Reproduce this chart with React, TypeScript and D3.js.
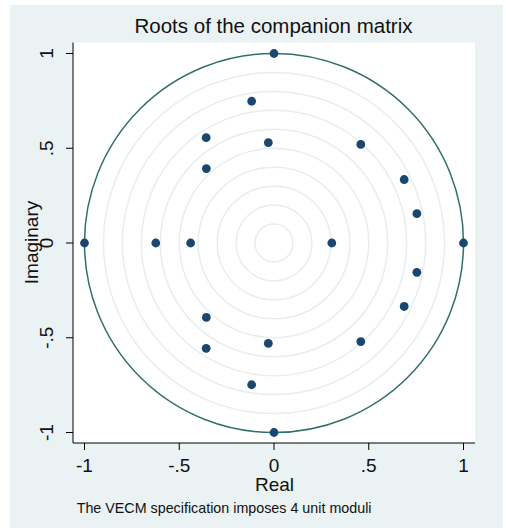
import React from "react";
import * as d3 from "d3";

const realParts = [0, 0, -1, 1, -0.118, -0.118, -0.358, -0.358, -0.357, -0.357, -0.03, -0.03, 0.458, 0.458, 0.687, 0.687, 0.754, 0.754, -0.624, -0.44, 0.305];
const imagParts = [1, -1, 0, 0, 0.748, -0.748, 0.556, -0.556, 0.393, -0.393, 0.53, -0.53, 0.52, -0.52, 0.335, -0.335, 0.155, -0.155, 0, 0, 0];
const ringRadii = [0.1, 0.2, 0.3, 0.4, 0.5, 0.6, 0.7, 0.8, 0.9];
const tickValues = [-1, -0.5, 0, 0.5, 1];
const tickLabels = ["-1", "-.5", "0", ".5", "1"];
const titleText = "Roots of the companion matrix";
const xTitle = "Real";
const yTitle = "Imaginary";
const noteText = "The VECM specification imposes 4 unit moduli";

const W = 506;
const H = 531;
const FONT = "'Liberation Sans', Arial, sans-serif";

export default function App() {
  const x = d3.scaleLinear().domain([-1, 1]).range([84.5, 463.5]);
  const y = d3.scaleLinear().domain([-1, 1]).range([432.5, 53.5]);
  const plotL = 73, plotR = 475, plotT = 42.5, plotB = 443;
  const cx = x(0), cy = y(0);
  const rPix = (r: number) => x(r) - x(0);
  const circle = (r: number) => {
    const p = d3.path();
    p.arc(cx, cy, rPix(r), 0, Math.PI * 2);
    p.closePath();
    return p.toString();
  };
  return (
    <svg width={W} height={H} style={{ position: "absolute", left: 0, top: 0, background: "#fff" }} fontFamily={FONT}>
      <rect x={10} y={5} width={493} height={523} fill="#EAF2F3" />
      <rect x={plotL} y={plotT} width={plotR - plotL} height={plotB - plotT} fill="#ffffff" />
      {ringRadii.map((r) => (
        <path key={r} d={circle(r)} fill="none" stroke="#E6EEF0" strokeWidth={1.5} />
      ))}
      <path d={circle(1)} fill="none" stroke="#32706A" strokeWidth={1.5} />
      {realParts.map((re, i) => (
        <circle key={i} cx={x(re)} cy={y(imagParts[i])} r={4.4} fill="#1A476F" />
      ))}
      <line x1={plotL} x2={plotL} y1={plotT} y2={plotB} stroke="#000" strokeWidth={1} />
      <line x1={plotL} x2={plotR} y1={plotB} y2={plotB} stroke="#000" strokeWidth={1} />
      {tickValues.map((v, i) => (
        <g key={"x" + v}>
          <line x1={x(v)} x2={x(v)} y1={plotB} y2={plotB + 7} stroke="#000" />
          <text x={x(v)} y={472} textAnchor="middle" fontSize={19} fill="#111">{tickLabels[i]}</text>
        </g>
      ))}
      {tickValues.map((v, i) => (
        <g key={"y" + v}>
          <line x1={plotL - 7} x2={plotL} y1={y(v)} y2={y(v)} stroke="#000" />
          <text transform={`translate(53,${y(v)}) rotate(-90)`} textAnchor="middle" fontSize={19} fill="#111">{tickLabels[i]}</text>
        </g>
      ))}
      <text x={273.5} y={33} textAnchor="middle" fontSize={20.5} fill="#111">{titleText}</text>
      <text x={274.5} y={491} textAnchor="middle" fontSize={19} fill="#111">{xTitle}</text>
      <text transform={`translate(38,242.5) rotate(-90)`} textAnchor="middle" fontSize={19} fill="#111">{yTitle}</text>
      <text x={76.7} y={513} fontSize={14.3} fill="#111">{noteText}</text>
    </svg>
  );
}
